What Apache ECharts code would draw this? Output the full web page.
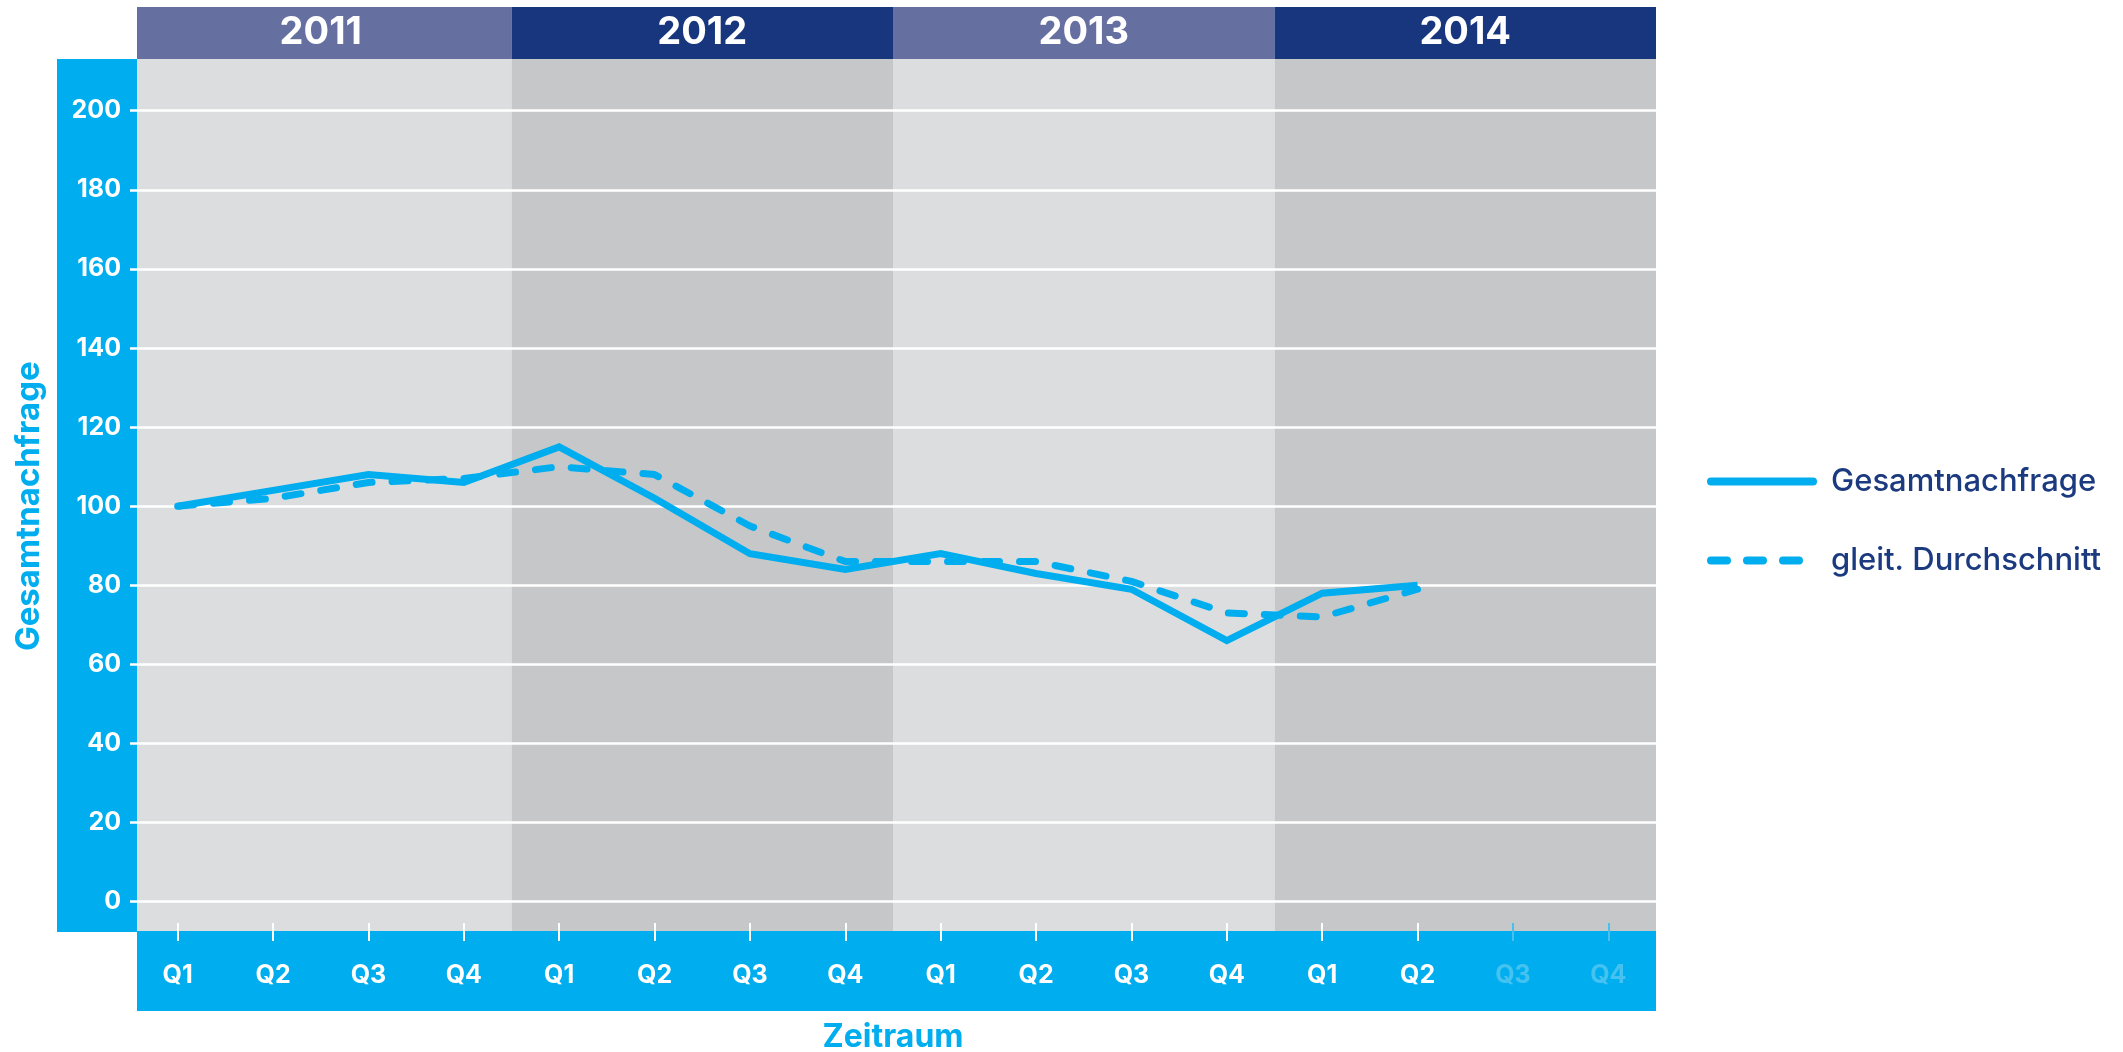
<!DOCTYPE html>
<html><head><meta charset="utf-8">
<script src="https://cdn.jsdelivr.net/npm/echarts@6/dist/echarts.min.js"></script>
<style>html,body{margin:0;padding:0;background:#fff}#c{width:2123px;height:1052px}</style>
</head><body><div id="c"></div>
<script>
// ---- data ----
const years = ['2011', '2012', '2013', '2014'];
const quarters = ['Q1','Q2','Q3','Q4','Q1','Q2','Q3','Q4','Q1','Q2','Q3','Q4','Q1','Q2','Q3','Q4'];
const gesamtnachfrage = [100, 104, 108, 106, 115, 102, 88, 84, 88, 83, 79, 66, 78, 80];
const gleitDurchschnitt = [100, 102, 106, 107, 110, 108, 95, 86, 86, 86, 81, 73, 72, 79];
const yMin = 0, yMax = 200, yStep = 20;
const seriesNames = ['Gesamtnachfrage', 'gleit. Durchschnitt'];
const yAxisTitle = 'Gesamtnachfrage';
const xAxisTitle = 'Zeitraum';

// ---- style ----
const BLUE = '#00aeef', FADED = '#45c2ef', NAVY = '#17367e', SLATE = '#6670a0';
const LIGHT = '#dcdddf', DARK = '#c6c7c9', TEXT = '#1b3a7f';
const FONT = 'Inter';
const L = 130, R = 467;
const nData = gesamtnachfrage.length;
const AX_OFF = 39.3;

const chart = echarts.init(document.getElementById('c'), null, {renderer: 'canvas'});
const mainGrid = {left: L, right: R, top: 110.7, bottom: 150.3, outerBoundsMode: 'none'};
const tickGrid = {left: L, right: R, top: 110.7, bottom: 129, outerBoundsMode: 'none'};

const tickAxis = (gridIndex, show, color) => ({
  gridIndex, type: 'category', data: quarters, boundaryGap: true, z: 2,
  axisLine: {show: false}, axisLabel: {show: false}, splitLine: {show: false},
  axisTick: {show: true, inside: false, alignWithLabel: true, length: 18, interval: show,
             lineStyle: {color, width: 2}}
});

const option = {
  animation: false,
  backgroundColor: '#fff',
  grid: [
    mainGrid,
    {left: L, right: R, top: 59, bottom: 121, outerBoundsMode: 'none'},
    {left: L, right: R, top: 7, height: 52, outerBoundsMode: 'none'},
    Object.assign({}, tickGrid),
    Object.assign({}, tickGrid)
  ],
  xAxis: [
    {
      gridIndex: 0, type: 'category', boundaryGap: true, offset: AX_OFF, z: 2,
      data: quarters.map((q, i) => i >= nData ? {value: q, textStyle: {color: FADED}} : q),
      axisLine: {show: false}, axisTick: {show: false},
      axisLabel: {color: '#fff', fontFamily: FONT, fontWeight: 'bold', fontSize: 25, margin: 21.5, interval: 0},
      splitLine: {show: false},
      name: xAxisTitle, nameLocation: 'middle', nameGap: 80,
      nameTextStyle: {color: BLUE, fontFamily: FONT, fontWeight: 'bold', fontSize: 32}
    },
    {gridIndex: 1, type: 'category', data: years, show: false},
    {gridIndex: 2, type: 'category', data: years, show: false},
    tickAxis(3, (i) => i < nData, '#fff'),
    tickAxis(4, (i) => i >= nData, FADED)
  ],
  yAxis: [
    {
      gridIndex: 0, type: 'value', min: yMin, max: yMax, interval: yStep, z: 2,
      axisLine: {show: false}, axisTick: {show: false},
      axisLabel: {color: '#fff', fontFamily: FONT, fontWeight: 'bold', fontSize: 25, margin: 9},
      splitLine: {show: true, lineStyle: {color: '#fff', width: 2.6}},
      name: yAxisTitle, nameLocation: 'middle', nameRotate: 90, nameGap: 84,
      nameTextStyle: {color: BLUE, fontFamily: FONT, fontWeight: 'bold', fontSize: 33}
    },
    {gridIndex: 1, type: 'value', min: 0, max: 1, show: false},
    {gridIndex: 2, type: 'value', min: 0, max: 1, show: false},
    {gridIndex: 3, type: 'value', min: 0, max: 1, show: false},
    {gridIndex: 4, type: 'value', min: 0, max: 1, show: false}
  ],
  legend: {
    data: seriesNames, orient: 'vertical', left: 1702, top: 461,
    itemWidth: 102, itemHeight: 28, itemGap: 48, selectedMode: false,
    itemStyle: {opacity: 0},
    lineStyle: {width: 8, cap: 'round'},
    textStyle: {color: TEXT, fontFamily: FONT, fontWeight: 500, fontSize: 31, padding: [0, 0, 0, 13]}
  },
  graphic: [
    {type: 'rect', shape: {x: 57, y: 59, width: 80, height: 873}, style: {fill: BLUE}, z: 1, silent: true},
    {type: 'rect', shape: {x: 137, y: 931, width: 1519, height: 80}, style: {fill: BLUE}, z: 1, silent: true},
    {type: 'rect', shape: {x: 118, y: 0, width: 19, height: 59}, style: {fill: '#fff'}, z: 10, silent: true}
  ],
  series: [
    {
      type: 'bar', xAxisIndex: 1, yAxisIndex: 1, silent: true, z: 0,
      barWidth: '100%', barCategoryGap: '0%',
      data: years.map((y, i) => ({value: 1, itemStyle: {color: i % 2 ? DARK : LIGHT}}))
    },
    {
      type: 'bar', xAxisIndex: 2, yAxisIndex: 2, silent: true,
      barWidth: '100%', barCategoryGap: '0%',
      data: years.map((y, i) => ({value: 1, itemStyle: {color: i % 2 ? NAVY : SLATE}})),
      label: {show: true, position: 'inside', formatter: (p) => p.name, color: '#fff',
              textBorderWidth: 0, fontFamily: FONT, fontWeight: 'bold', fontSize: 38}
    },
    {
      type: 'line', name: seriesNames[0], data: gesamtnachfrage, symbol: 'none', z: 3,
      lineStyle: {color: BLUE, width: 7, join: 'miter'}, itemStyle: {color: BLUE}
    },
    {
      type: 'line', name: seriesNames[1], data: gleitDurchschnitt, symbol: 'none', z: 3,
      lineStyle: {color: BLUE, width: 7, type: [16, 20], cap: 'round'}, itemStyle: {color: BLUE}
    }
  ]
};
chart.setOption(option);
</script>
</body></html>
